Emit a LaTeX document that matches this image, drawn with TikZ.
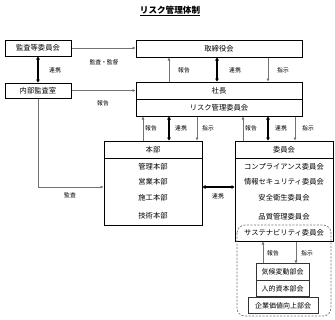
\documentclass[tikz,border=0pt]{standalone}
\usepackage{fontspec}
\setmainfont{Noto Sans CJK JP}
\usetikzlibrary{arrows.meta}
\tikzset{
  box/.style={draw=black, line width=1pt, inner sep=0pt, font=\fontsize{7.3}{8}\selectfont},
  subbox/.style={draw=black!80, line width=0.6pt, inner sep=0pt, font=\fontsize{7}{8}\selectfont},
  item/.style={inner sep=0pt, font=\fontsize{7.3}{8}\selectfont},
  lbl/.style={inner sep=0pt, font=\fontsize{5.8}{7}\selectfont},
  thin arrow/.style={draw=black!55, line width=0.7pt, -{Triangle[length=3pt,width=2.6pt]}},
  thick arrow/.style={draw=black, line width=1.6pt, {Triangle[length=3pt,width=3.6pt]}-{Triangle[length=3pt,width=3.6pt]}},
}
\begin{document}
\begin{tikzpicture}[x=1pt,y=-1pt]
\useasboundingbox (0,0) rectangle (335,319);
% title
\node[inner sep=0pt, font=\fontsize{8.6}{10}\selectfont\bfseries] (title) at (170,11) {\underline{リスク管理体制}};
% top boxes
\node[box, minimum width=66pt, minimum height=16pt] (kansa) at (38,48) {監査等委員会};
\node[box, minimum width=166pt, minimum height=17pt] (tori) at (219,48.5) {取締役会};
\node[box, minimum width=66pt, minimum height=15pt] (naibu) at (38,90.5) {内部監査室};
\node[box, minimum width=166pt, minimum height=17pt] (shacho) at (219,90.5) {社長};
\node[box, minimum width=166pt, minimum height=17pt] (risk) at (219,107.5) {リスク管理委員会};
% honbu
\node[box, minimum width=98pt, minimum height=17pt] (honbu) at (153,149.5) {本部};
\node[box, minimum width=98pt, minimum height=67pt] (honbubody) at (153,191.5) {};
\node[item] (h1) at (153,167) {管理本部};
\node[item] (h2) at (153,182) {営業本部};
\node[item] (h3) at (153,198) {施工本部};
\node[item] (h4) at (153,216) {技術本部};
% iinkai
\node[box, minimum width=98pt, minimum height=17pt] (iin) at (284,149.5) {委員会};
\node[box, minimum width=98pt, minimum height=83pt] (iinbody) at (284,199.5) {};
\node[item] (c1) at (284,167) {コンプライアンス委員会};
\node[item] (c2) at (284,182) {情報セキュリティ委員会};
\node[item] (c3) at (284,198) {安全衛生委員会};
\node[item] (c4) at (284,217) {品質管理委員会};
\node[item] (c5) at (284,233) {サステナビリティ委員会};
% dashed group
\draw[black!55, dashed, line width=0.7pt, dash pattern=on 2pt off 1.5pt, rounded corners=8pt] (237,225) rectangle (331,316);
% sub boxes
\node[subbox, minimum width=53pt, minimum height=16.5pt] (s1) at (282.5,272) {気候変動部会};
\node[subbox, minimum width=53pt, minimum height=16.5pt] (s2) at (282.5,288.5) {人的資本部会};
\node[subbox, minimum width=70pt, minimum height=16.5pt] (s3) at (283,305.5) {企業価値向上部会};
% connectors top
\draw[thin arrow] (kansa.east) -- (tori.west |- kansa.east);
\draw[thick arrow] (kansa.south) -- (naibu.north);
\draw[thin arrow] (naibu.east) -- (shacho.west |- naibu.east);
\coordinate (bend) at (38,187);
\draw[thin arrow] (naibu.south) -- (bend) -- (honbubody.west |- bend);
% tori <-> shacho
\draw[thin arrow] (shacho.north -| 169,0) -- (tori.south -| 169,0);
\draw[thick arrow] (tori.south -| 217,0) -- (shacho.north -| 217,0);
\draw[thin arrow] (tori.south -| 268,0) -- (shacho.north -| 268,0);
% risk <-> honbu
\draw[thin arrow] (honbu.north -| 143,0) -- (risk.south -| 143,0);
\draw[thick arrow] (risk.south -| 169,0) -- (honbu.north -| 169,0);
\draw[thin arrow] (risk.south -| 197,0) -- (honbu.north -| 197,0);
% risk <-> iinkai
\draw[thin arrow] (iin.north -| 243,0) -- (risk.south -| 243,0);
\draw[thick arrow] (risk.south -| 268,0) -- (iin.north -| 268,0);
\draw[thin arrow] (risk.south -| 295,0) -- (iin.north -| 295,0);
% honbu <-> iinkai
\draw[thick arrow] (honbubody.east |- 0,187) -- (iinbody.west |- 0,187);
% sustainability <-> sub
\draw[thin arrow] (s1.north -| 263,0) -- (iinbody.south -| 263,0);
\draw[thin arrow] (iinbody.south -| 296,0) -- (s1.north -| 296,0);
% labels
\node[lbl] (l1) at (104,62) {監査・監督};
\node[lbl] (l2) at (55,70.5) {連携};
\node[lbl] (l3) at (103,103.5) {報告};
\node[lbl] (l4) at (70,195) {監査};
\node[lbl] (l5) at (184,70.5) {報告};
\node[lbl] (l6) at (235,70.5) {連携};
\node[lbl] (l7) at (283,70.5) {指示};
\node[lbl] (l8) at (151,128) {報告};
\node[lbl] (l9) at (181,128) {連携};
\node[lbl] (l10) at (208,128) {指示};
\node[lbl] (l11) at (251,128) {報告};
\node[lbl] (l12) at (281,128) {連携};
\node[lbl] (l13) at (308,128) {指示};
\node[lbl] (l14) at (218,196) {連携};
\node[lbl] (l15) at (273,253) {報告};
\node[lbl] (l16) at (307,253) {指示};
\end{tikzpicture}
\end{document}
